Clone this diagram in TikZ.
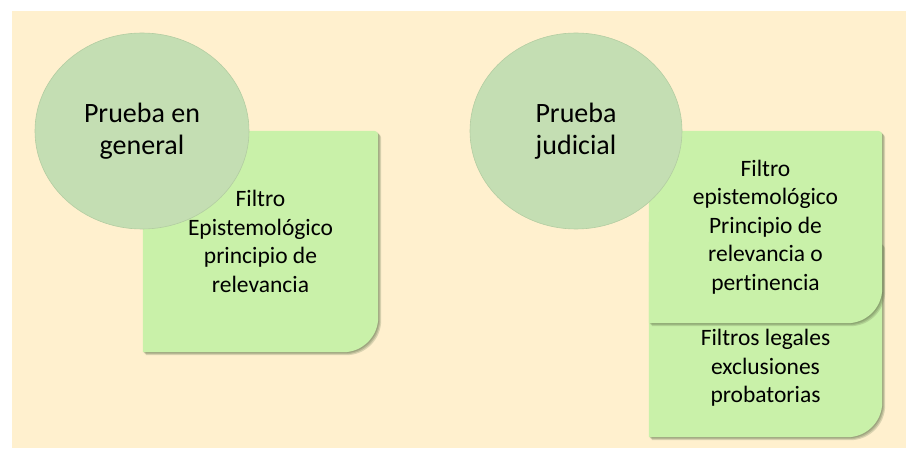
\documentclass[tikz,border=0pt]{standalone}
\usepackage{fontspec}
\setmainfont{Carlito}[Ligatures=NoCommon]
\usetikzlibrary{shapes.geometric}
\definecolor{bgc}{HTML}{FFF0CE}
\definecolor{circc}{HTML}{C4DEB3}
\definecolor{circd}{HTML}{B3CDA2}
\definecolor{boxc}{HTML}{C9F1A9}
\definecolor{shadc}{HTML}{6E7E58}
\newcommand{\roundboxpath}[2]{%
  \path[#2] (#1.north west) -- ([xshift=-4pt]#1.north east)
    arc[start angle=90,end angle=0,radius=4pt]
    -- ([yshift=35pt]#1.south east)
    arc[start angle=0,end angle=-90,radius=35pt]
    -- (#1.south west) -- cycle;}
\newcommand{\shadowedbox}[1]{%
  \roundboxpath{#1}{fill=shadc,opacity=0.25,transform canvas={shift={(3pt,-3pt)}}}%
  \roundboxpath{#1}{fill=shadc,opacity=0.3,transform canvas={shift={(2pt,-2pt)}}}%
  \roundboxpath{#1}{fill=shadc,opacity=0.35,transform canvas={shift={(1pt,-1pt)}}}%
  \roundboxpath{#1}{fill=boxc}}
\tikzset{
  boxarea/.style n args={2}{rectangle, inner sep=0pt, minimum width=#1, minimum height=#2},
  bubble/.style={ellipse, fill=circc, draw=circd, line width=0.6pt, inner sep=0pt,
    minimum width=214pt, minimum height=196pt, align=center,
    font=\fontsize{28}{31.5}\selectfont},
  boxtext/.style={align=center, inner sep=0pt, font=\fontsize{23.5}{28.5}\selectfont}
}
\begin{document}
\begin{tikzpicture}[x=1pt,y=1pt]
\useasboundingbox (0,0) rectangle (907,450);
\fill[bgc] (12,2) rectangle (906,439);
% left group
\node[boxarea={235pt}{221pt}] (lbox) at (260.5,208.5) {};
\shadowedbox{lbox}
\node[boxtext] (ltext) at (lbox.center) {Filtro\\Epistemológico\\principio de\\relevancia};
\node[bubble] (lcirc) at (142,319) {Prueba en\\general};
% right group
\node[boxarea={233pt}{195pt}] (rlow) at (765.5,110.5) {};
\shadowedbox{rlow}
\node[boxarea={233pt}{192pt}] (rup) at (765.5,223) {};
\shadowedbox{rup}
\node[boxtext] (rtext) at (rup.center) {Filtro\\epistemológico\\Principio de\\relevancia o\\pertinencia};
\node[boxtext] (rltext) at (765.5,82) {Filtros legales\\exclusiones\\probatorias};
\node[bubble, minimum width=212pt] (rcirc) at (576,319) {Prueba\\judicial};
\end{tikzpicture}
\end{document}
